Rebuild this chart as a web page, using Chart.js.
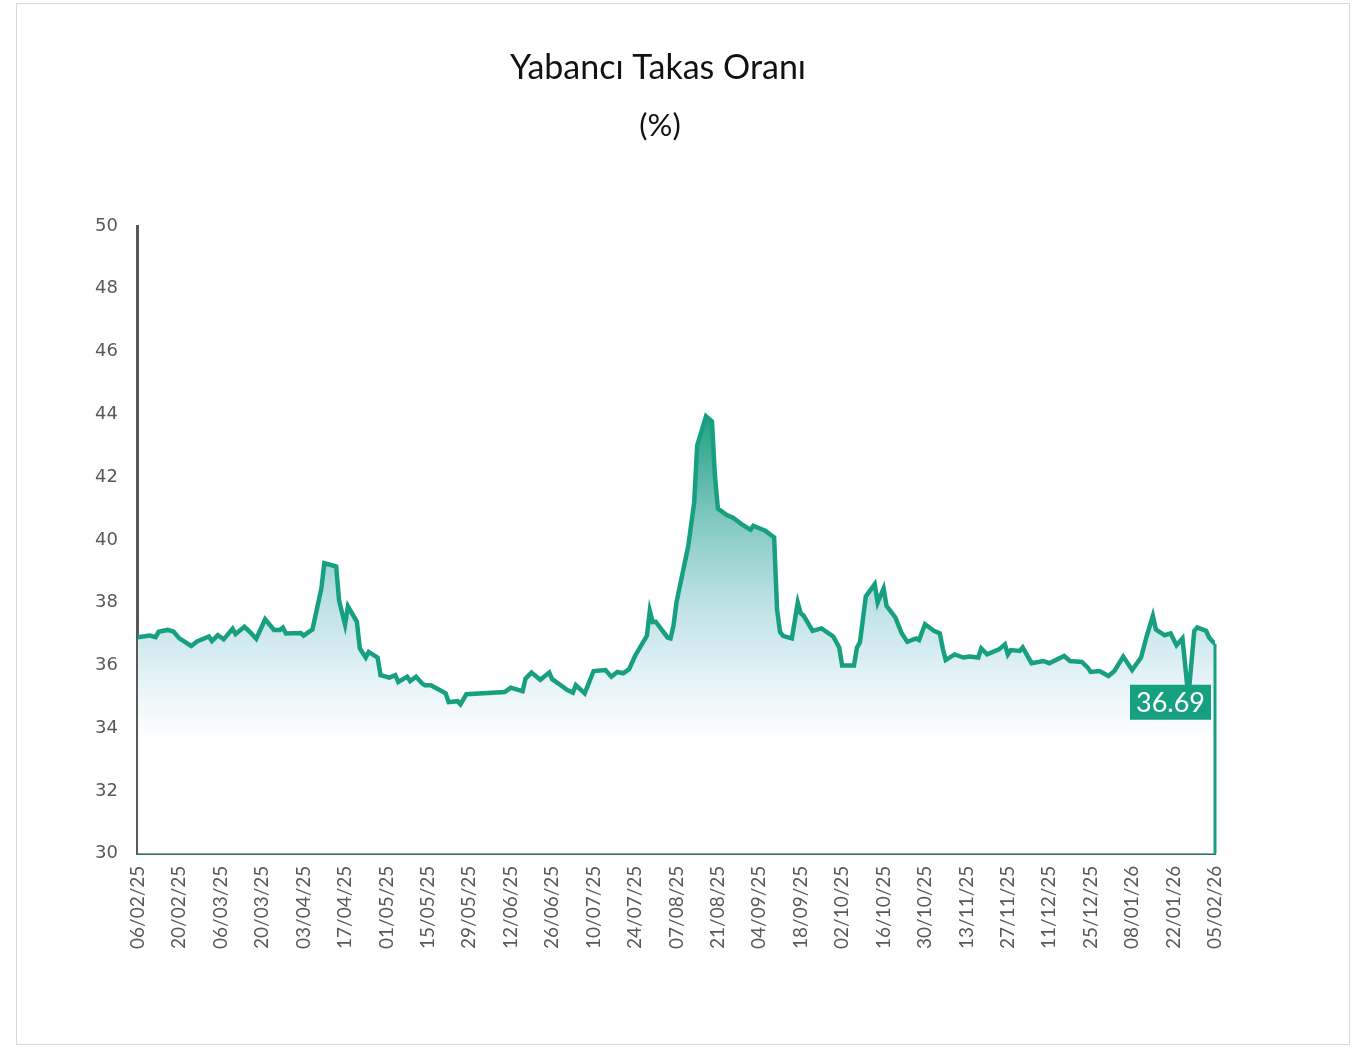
<!DOCTYPE html>
<html>
<head>
<meta charset="utf-8">
<script src="https://cdn.jsdelivr.net/npm/chart.js@4"></script>
<style>
  html, body { margin: 0; padding: 0; background: #fff; }
  #wrap { width: 1371px; height: 1047px; }
</style>
</head>
<body>
<div id="wrap"><canvas id="takas-chart" width="1371" height="1047"></canvas></div>
<script>
// start date of the series: 06/02/2025, x values are day offsets from it
const startDate = Date.UTC(2025, 1, 6);

const days = [0, 4, 6, 7, 10, 12, 14, 18, 20, 24, 25, 27, 29, 32, 33, 36, 38, 40, 43, 46, 48, 49, 50, 55, 56, 59, 62, 63, 67, 68, 70, 71, 74, 75, 77, 78, 81, 82, 85, 87, 88, 91, 92, 94, 96, 97, 99, 104, 105, 108, 109, 111, 124, 126, 130, 131, 133, 136, 139, 140, 142, 145, 147, 148, 151, 154, 158, 160, 162, 164, 166, 168, 172, 173, 174, 175, 179, 180, 181, 182, 186, 188, 189, 192, 194, 195, 196, 199, 201, 204, 207, 208, 210, 212, 215, 216, 217, 218, 221, 223, 224, 225, 228, 231, 235, 237, 238, 242, 243, 244, 246, 249, 250, 252, 253, 256, 258, 260, 263, 264, 266, 269, 271, 272, 273, 276, 279, 281, 284, 285, 287, 291, 293, 294, 295, 298, 299, 302, 306, 308, 313, 315, 319, 321, 322, 325, 328, 330, 333, 336, 339, 341, 343, 344, 347, 349, 351, 353, 355, 357, 358, 361, 362, 363, 364];

const values = [36.90, 36.95, 36.90, 37.07, 37.13, 37.08, 36.86, 36.62, 36.76, 36.92, 36.78, 36.96, 36.83, 37.17, 37.00, 37.23, 37.05, 36.85, 37.47, 37.13, 37.13, 37.20, 37.02, 37.03, 36.95, 37.15, 38.45, 39.26, 39.15, 38.06, 37.30, 37.88, 37.39, 36.54, 36.25, 36.43, 36.25, 35.69, 35.61, 35.69, 35.47, 35.64, 35.50, 35.64, 35.43, 35.37, 35.37, 35.11, 34.83, 34.86, 34.76, 35.08, 35.15, 35.29, 35.18, 35.58, 35.77, 35.54, 35.77, 35.56, 35.43, 35.22, 35.13, 35.37, 35.11, 35.82, 35.85, 35.64, 35.79, 35.75, 35.88, 36.30, 36.94, 37.74, 37.38, 37.39, 36.89, 36.86, 37.26, 38.00, 39.81, 41.20, 43.00, 43.94, 43.77, 42.04, 41.00, 40.79, 40.71, 40.50, 40.32, 40.45, 40.37, 40.29, 40.08, 37.79, 37.07, 36.94, 36.86, 38.00, 37.66, 37.58, 37.10, 37.18, 36.92, 36.57, 36.00, 36.00, 36.57, 36.73, 38.20, 38.59, 38.00, 38.45, 37.90, 37.52, 37.05, 36.75, 36.86, 36.81, 37.31, 37.10, 37.02, 36.54, 36.17, 36.35, 36.25, 36.28, 36.25, 36.54, 36.35, 36.51, 36.67, 36.35, 36.49, 36.46, 36.57, 36.07, 36.14, 36.07, 36.30, 36.14, 36.11, 35.93, 35.79, 35.82, 35.66, 35.82, 36.28, 35.85, 36.25, 36.96, 37.58, 37.15, 36.96, 37.02, 36.64, 36.86, 35.00, 37.10, 37.21, 37.10, 36.89, 36.78, 36.69];

const yTicks = [30, 32, 34, 36, 38, 40, 42, 44, 46, 48, 50];
const tickStepDays = 14;

const chartTitle = 'Yabancı Takas Oranı';
const chartSubtitle = '(%)';

const lineColor = '#17a07f';

function dayLabel(d) {
    const dt = new Date(startDate + d * 86400000);
    const dd = String(dt.getUTCDate()).padStart(2, '0');
    const mm = String(dt.getUTCMonth() + 1).padStart(2, '0');
    const yy = String(dt.getUTCFullYear()).slice(2);
    return dd + '/' + mm + '/' + yy;
}

// white background, frame, and the two title lines
const framePlugin = {
    id: 'frame',
    beforeDraw(chart) {
        const ctx = chart.ctx;
        ctx.save();
        ctx.fillStyle = '#fff';
        ctx.fillRect(0, 0, chart.width, chart.height);
        ctx.strokeStyle = '#d9d9d9';
        ctx.lineWidth = 1;
        ctx.strokeRect(16.5, 3.5, 1333, 1041);

        ctx.fillStyle = '#111';
        ctx.textAlign = 'center';
        ctx.textBaseline = 'middle';
        ctx.font = '34px Lato';
        ctx.fillText(chartTitle, 658, 68);
        ctx.font = '31px Lato';
        ctx.fillText(chartSubtitle, 660, 126);
        ctx.restore();
    }
};

// closing edge of the area down to the axis + last value box
const lastValuePlugin = {
    id: 'lastValue',
    afterDatasetsDraw(chart) {
        const ctx = chart.ctx;
        const meta = chart.getDatasetMeta(0);
        const last = meta.data[meta.data.length - 1];
        const yScale = chart.scales.y;
        ctx.save();
        ctx.strokeStyle = lineColor;
        ctx.lineWidth = 3;
        ctx.beginPath();
        ctx.moveTo(last.x, last.y);
        ctx.lineTo(last.x, yScale.getPixelForValue(yScale.min));
        ctx.stroke();

        const boxW = 81, boxH = 35;
        const bx = last.x - 4 - boxW;
        const by = last.y + 41;
        ctx.fillStyle = lineColor;
        ctx.fillRect(bx, by, boxW, boxH);
        ctx.fillStyle = '#fff';
        ctx.font = '27px Lato';
        ctx.textAlign = 'center';
        ctx.textBaseline = 'middle';
        ctx.fillText(values[values.length - 1].toFixed(2), bx + boxW / 2, by + boxH / 2 + 1);
        ctx.restore();
    }
};

const ctx = document.getElementById('takas-chart').getContext('2d');

new Chart(ctx, {
    type: 'line',
    data: {
        datasets: [{
            label: chartTitle,
            data: days.map((d, i) => ({ x: d, y: values[i] })),
            borderColor: lineColor,
            borderWidth: 4.5,
            pointRadius: 0,
            tension: 0,
            fill: 'start',
            backgroundColor: function (context) {
                const chart = context.chart;
                const { chartArea, scales } = chart;
                if (!chartArea) return 'rgba(0,0,0,0)';
                const g = chart.ctx.createLinearGradient(0, scales.y.getPixelForValue(44), 0, scales.y.getPixelForValue(33.6));
                g.addColorStop(0, '#1f9f82');
                g.addColorStop(0.3, '#7cc6bd');
                g.addColorStop(0.55, '#b7dfe3');
                g.addColorStop(0.8, '#e3f2f6');
                g.addColorStop(1, '#ffffff');
                return g;
            }
        }]
    },
    options: {
        responsive: false,
        animation: false,
        devicePixelRatio: 1,
        layout: {
            padding: { left: 75, right: 156, top: 226, bottom: 86 }
        },
        plugins: {
            legend: { display: false },
            tooltip: { enabled: false },
            title: { display: false },
            subtitle: { display: false }
        },
        scales: {
            x: {
                type: 'linear',
                min: 0,
                max: 364,
                grid: { display: false, drawTicks: false },
                border: { display: true, color: '#2e6f61', width: 3 },
                ticks: {
                    stepSize: tickStepDays,
                    minRotation: 90,
                    maxRotation: 90,
                    autoSkip: false,
                    padding: 12,
                    color: '#595959',
                    font: { family: 'Lato', size: 19 },
                    callback: function (v) { return dayLabel(v); }
                }
            },
            y: {
                min: yTicks[0],
                max: yTicks[yTicks.length - 1],
                grid: { display: false, drawTicks: false },
                border: { display: true, color: '#595959', width: 3 },
                afterBuildTicks: function (axis) {
                    axis.ticks = yTicks.map(v => ({ value: v }));
                },
                ticks: {
                    padding: 20,
                    color: '#595959',
                    font: { family: 'DejaVu Sans', size: 18 }
                }
            }
        }
    },
    plugins: [framePlugin, lastValuePlugin]
});
</script>
</body>
</html>
